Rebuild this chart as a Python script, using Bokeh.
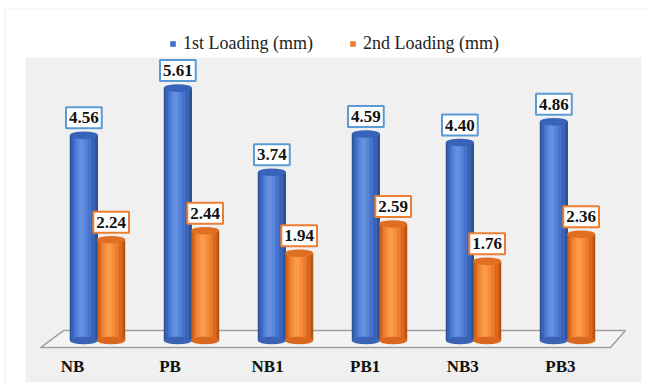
from bokeh.plotting import figure
from bokeh.models import (ColumnDataSource, Range1d, Label, Legend, LegendItem,
                          BoxAnnotation)
from bokeh.transform import dodge
from bokeh.core.properties import value
from bokeh.embed import file_html
from bokeh.resources import INLINE

categories = ["NB", "PB", "NB1", "PB1", "NB3", "PB3"]
first_loading = [4.56, 5.61, 3.74, 4.59, 4.40, 4.86]
second_loading = [2.24, 2.44, 1.94, 2.59, 1.76, 2.36]
series_names = ["1st Loading (mm)", "2nd Loading (mm)"]

idx = list(range(len(categories)))
src = ColumnDataSource(dict(
    idx=idx,
    cat=categories,
    first=first_loading,
    second=second_loading,
    lab_x=[i * 1.038 - 0.266 for i in idx],
    zero=[0.0] * len(idx),
))

SERIF = "'Liberation Serif'"
p = figure(width=647, height=382, output_backend="svg", toolbar_location=None,
           x_range=Range1d(-1.032, 5.851), y_range=Range1d(-0.933, 7.556),
           min_border=0, background_fill_color="white", border_fill_color="white")
p.axis.visible = False
p.grid.visible = False
p.outline_line_color = None

# outer frame (top/left visible)
p.add_layout(BoxAnnotation(left=-0.979, right=6.2, bottom=-1.2, top=7.378,
                           fill_alpha=0, line_color="#e3e3e3", line_width=2,
                           level="underlay"))
# gray plot area
p.add_layout(BoxAnnotation(left=-0.766, right=5.787, bottom=-0.933, top=6.29,
                           fill_color="#f0f0f0", fill_alpha=1, line_color=None,
                           level="underlay"))

# floor
p.patch([-0.606, 5.457, 5.617, -0.362], [-0.156, -0.156, 0.222, 0.222],
        fill_color="#f4f4f4", line_color="#a0a0a0", line_width=1.5)

BW = 0.30
specs = [
    ("first", -0.145, ["#2c4f94", "#3a62b5", "#4674cc", "#5584da", "#6590e0"], "#3863b8", "#4472c4"),
    ("second", 0.145, ["#b8530f", "#d9681e", "#ed7d31", "#f78c3d", "#fb9a4c"], "#e06f22", "#ed7d31"),
]
legend_rs = []
for col, off, shades, topc, legc in specs:
    layers = [(1.0, 0.0), (0.86, -0.02), (0.62, -0.05), (0.40, -0.07), (0.18, -0.08)]
    for (f, o), c in zip(layers, shades):
        p.vbar(x=dodge("idx", off + o * BW, range=p.x_range), width=BW * f,
               top=col, bottom=0, source=src, fill_color=c, line_color=None)
    p.ellipse(x=dodge("idx", off, range=p.x_range), y="zero", width=BW, height=0.17,
              source=src, fill_color=shades[1], line_color=None)
    p.ellipse(x=dodge("idx", off, range=p.x_range), y=col, width=BW, height=0.17,
              source=src, fill_color=topc, line_color=None)
    leg = p.vbar(x=dodge("idx", off, range=p.x_range), width=BW, top=col, bottom=0,
                 source=src, fill_color=legc, line_color=None, visible=False)
    legend_rs.append(leg)

# value labels
for vals, off, border in [(first_loading, -0.145, "#5b9bd5"), (second_loading, 0.145, "#ed7d31")]:
    for i, v in zip(idx, vals):
        p.add_layout(Label(x=i + off, y=v, text=f"{v:.2f}", y_offset=7,
                           text_align="center", text_baseline="bottom",
                           text_font=SERIF, text_font_size="17px", text_font_style="bold",
                           text_color="#111111", background_fill_color="white",
                           border_line_color=border, border_line_width=2, padding=(3, 5)))

# category labels
p.text(x="lab_x", y=-0.578, text="cat", source=src, text_align="center",
       text_baseline="middle", text_font=value(SERIF), text_font_size="17px",
       text_font_style="bold", text_color="#111111")

legend = Legend(items=[LegendItem(label=series_names[0], renderers=[legend_rs[0]]),
                       LegendItem(label=series_names[1], renderers=[legend_rs[1]])],
                location=(169, 328), orientation="horizontal",
                glyph_width=7, glyph_height=7, label_standoff=7, spacing=36,
                padding=0, margin=0, background_fill_alpha=0, border_line_color=None,
                label_text_font=SERIF, label_text_font_size="18px",
                label_text_color="#222222")
p.add_layout(legend)

open("out.html", "w").write(file_html(p, INLINE))
